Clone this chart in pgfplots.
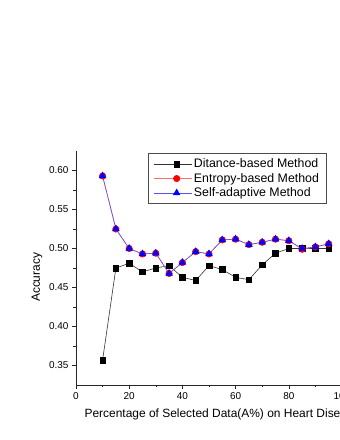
\documentclass[border=0pt]{standalone}
\usepackage{pgfplots}
\pgfplotsset{compat=1.18}
\usepackage{fontspec}
\setmainfont{Liberation Sans}
\definecolor{entred}{RGB}{255,110,110}
\definecolor{selfblue}{RGB}{90,80,240}
\begin{document}
\begin{tikzpicture}
\begin{scope}
\clip (0bp,0bp) rectangle (340bp,440bp);
\begin{axis}[
  at={(76bp,55bp)}, anchor=south west,
  scale only axis, width=266bp, height=234bp,
  xmin=0, xmax=100, ymin=0.325, ymax=0.625,
  axis x line*=bottom, axis y line*=left,
  axis line style={-, line width=0.8bp, black!85},
  tick align=outside,
  major tick length=4bp, minor tick length=2.5bp,
  tick style={line width=0.6bp, black!85},
  xtick={0,20,40,60,80,100}, minor x tick num=1,
  ytick={0.35,0.40,0.45,0.50,0.55,0.60}, minor y tick num=1,
  /pgf/number format/assume math mode=true,
  yticklabel style={/pgf/number format/fixed, /pgf/number format/fixed zerofill, /pgf/number format/precision=2},
  ticklabel style={font=\fontsize{10}{12}\selectfont},
  label style={font=\fontsize{12}{14}\selectfont},
  ylabel={Accuracy},
  ylabel style={at={(axis description cs:-0.147,0.46)}, anchor=center, rotate=0},
  xlabel={Percentage of Selected Data(A\%) on Heart Disease},
  xlabel style={at={(axis description cs:0.019,-0.137)}, anchor=base west},
  legend style={at={(axis description cs:0.271,0.991)}, anchor=north west,
    font=\fontsize{12.4}{13.4}\selectfont, draw=black!70, line width=0.6bp,
    inner xsep=5bp, inner ysep=3.5bp, row sep=0bp, cells={anchor=west}},
  legend image code/.code={
    \path (0bp,0bp) -- (8bp,0bp);
    \draw[mark repeat=2,mark phase=2] plot coordinates {(8bp,0bp) (23bp,0bp) (38bp,0bp)};},
]
\addplot[black!80, line width=0.6bp, mark=square*, mark size=2.8bp, mark options={black, fill=black}]
coordinates {(10,0.357) (15,0.475) (20,0.481) (25,0.470) (30,0.475) (35,0.478) (40,0.463) (45,0.459) (50,0.478) (55,0.473) (60,0.463) (65,0.460) (70,0.479) (75,0.494) (80,0.500) (85,0.500) (90,0.500) (95,0.500)};
\addlegendentry{Ditance-based Method}
\addplot[entred, line width=0.6bp, mark=*, mark size=3.2bp, mark options={red, fill=red}]
coordinates {(10,0.593) (15,0.525) (20,0.500) (25,0.493) (30,0.494) (35,0.468) (40,0.482) (45,0.496) (50,0.493) (55,0.511) (60,0.512) (65,0.505) (70,0.508) (75,0.512) (80,0.510) (85,0.499) (90,0.502) (95,0.506)};
\addlegendentry{Entropy-based Method}
\addplot[selfblue, line width=0.6bp, mark=triangle*, mark size=3.8bp, mark options={blue, fill=blue}]
coordinates {(10,0.593) (15,0.525) (20,0.500) (25,0.493) (30,0.494) (35,0.468) (40,0.482) (45,0.496) (50,0.493) (55,0.511) (60,0.512) (65,0.505) (70,0.508) (75,0.512) (80,0.510) (85,0.500) (90,0.502) (95,0.506)};
\addlegendentry{Self-adaptive Method}
\end{axis}
\end{scope}
\pgfresetboundingbox
\path[use as bounding box] (0bp,0bp) rectangle (340bp,440bp);
\end{tikzpicture}
\end{document}
